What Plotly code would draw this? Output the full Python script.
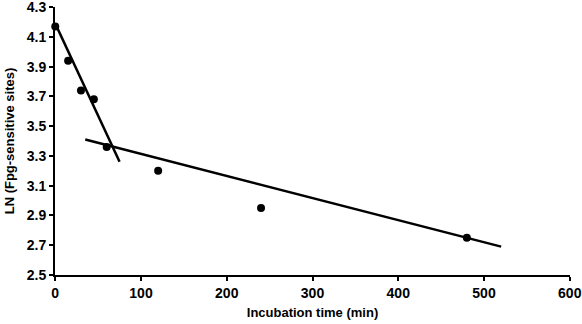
import plotly.graph_objects as go

time_min = [0, 15, 30, 45, 60, 120, 240, 480]
ln_sites = [4.17, 3.94, 3.74, 3.68, 3.36, 3.20, 2.95, 2.75]

fit1_x = [0, 75]
fit1_y = [4.19, 3.26]
fit2_x = [35, 520]
fit2_y = [3.41, 2.69]

x_ticks = [0, 100, 200, 300, 400, 500, 600]
y_ticks = [2.5, 2.7, 2.9, 3.1, 3.3, 3.5, 3.7, 3.9, 4.1, 4.3]

fig = go.Figure()
fig.add_trace(go.Scatter(x=time_min, y=ln_sites, mode="markers",
                         marker=dict(color="black", size=8), cliponaxis=False))
fig.add_trace(go.Scatter(x=fit1_x, y=fit1_y, mode="lines",
                         line=dict(color="black", width=2.5), cliponaxis=False))
fig.add_trace(go.Scatter(x=fit2_x, y=fit2_y, mode="lines",
                         line=dict(color="black", width=2.5), cliponaxis=False))

font_family = "Liberation Sans, Arial, sans-serif"
fig.update_layout(
    width=582, height=324,
    margin=dict(l=55, r=12, t=7, b=49),
    paper_bgcolor="white", plot_bgcolor="white",
    showlegend=False,
    font=dict(family=font_family, color="black", size=13),
)
fig.update_xaxes(
    range=[-0.3, 600.3], tickvals=x_ticks, ticktext=[str(v) for v in x_ticks],
    showgrid=False, zeroline=False, showline=True, linecolor="black", linewidth=2,
    ticks="outside", ticklen=4, tickwidth=2, tickcolor="black", automargin=False,
    ticklabeloverflow="allow",
    tickfont=dict(family=font_family, size=14, weight="bold"),
    title=dict(text="<b>Incubation time (min)</b>", font=dict(size=13), standoff=8),
)
fig.update_yaxes(
    range=[2.499, 4.301], tickvals=y_ticks, ticktext=[f"{v:.1f}" for v in y_ticks],
    showgrid=False, zeroline=False, showline=True, linecolor="black", linewidth=2,
    ticks="outside", ticklen=4, tickwidth=2, tickcolor="black", automargin=False,
    ticklabeloverflow="allow",
    tickfont=dict(family=font_family, size=14, weight="bold"),
    title=dict(text="<b>LN (Fpg-sensitive sites)</b>", font=dict(size=13), standoff=9),
)
fig.write_html("out.html", config={"displayModeBar": False},
               post_script="document.body.style.margin='0';")
